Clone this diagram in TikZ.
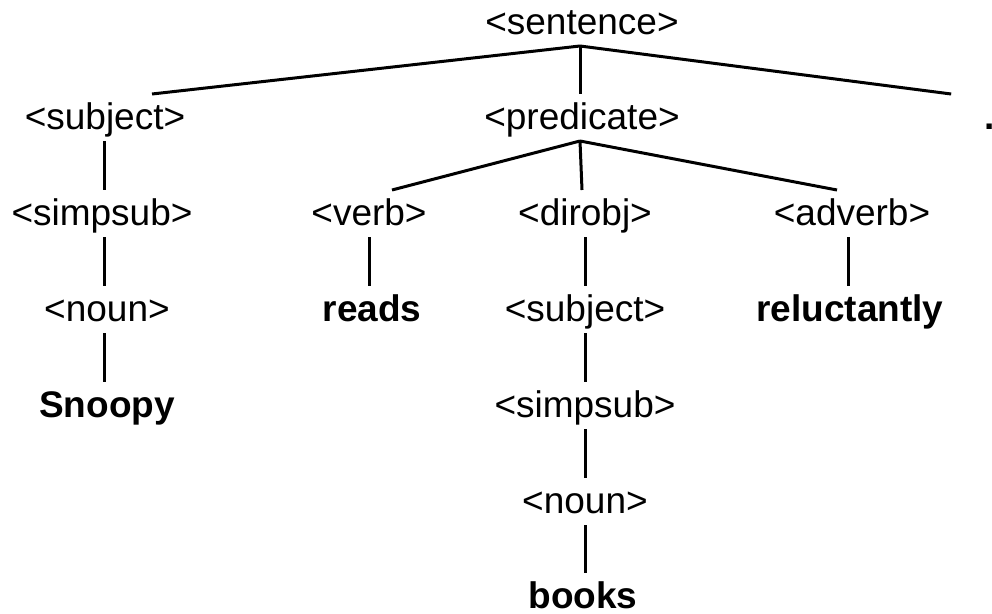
\documentclass[tikz,border=0pt]{standalone}
\usepackage{fontspec}
\setmainfont{Liberation Sans}
\begin{document}
\begin{tikzpicture}[x=1pt,y=-1pt,
  word/.style={anchor=base,inner sep=0pt,outer sep=0pt,text height=35pt,text depth=12pt,
    font=\fontsize{37}{44}\selectfont},
  leaf/.style={word,font=\fontsize{37}{44}\selectfont\bfseries},
  edge/.style={line width=3pt}]
\clip (0,0) rectangle (992,613);
\fill[white] (0,0) rectangle (992,613);
% row 0
\node[word] (sent) at (582,34) {<sentence>};
% row 1
\node[word] (subj) at (105,129) {<subject>};
\node[word] (pred) at (582,129) {<predicate>};
\node[leaf,anchor=base west] (stop) at (984,129) {.};
% row 2
\node[word] (simp) at (102,225) {<simpsub>};
\node[word] (verb) at (369,225) {<verb>};
\node[word] (dobj) at (585,225) {<dirobj>};
\node[word] (advb) at (852,225) {<adverb>};
% row 3
\node[word] (noun) at (107,321) {<noun>};
\node[leaf] (reads) at (372,321) {reads};
\node[word] (subjb) at (585,321) {<subject>};
\node[leaf] (reluc) at (850,321) {reluctantly};
% row 4
\node[leaf] (snoopy) at (107,417) {Snoopy};
\node[word] (simpb) at (585,417) {<simpsub>};
% row 5
\node[word] (nounb) at (585,513) {<noun>};
% row 6
\node[leaf] (books) at (583,608) {books};

% branches
\draw[edge] ([xshift=-2pt]sent.south) -- ([xshift=47pt]subj.north);
\draw[edge] ([xshift=-2pt]sent.south) -- ([xshift=-2pt]pred.north);
\draw[edge] ([xshift=-2pt]sent.south) -- ([xshift=-38pt]stop.north);
\draw[edge] ([xshift=-1pt]subj.south) -- ([xshift=2pt]simp.north);
\draw[edge] ([xshift=2pt]simp.south) -- ([xshift=-3pt]noun.north);
\draw[edge] ([xshift=-3pt]noun.south) -- ([xshift=-3pt]snoopy.north);
\draw[edge] ([xshift=-2pt]pred.south) -- ([xshift=23pt]verb.north);
\draw[edge] ([xshift=-2pt]pred.south) -- ([xshift=-3pt]dobj.north);
\draw[edge] ([xshift=-2pt]pred.south) -- ([xshift=-15pt]advb.north);
\draw[edge] (verb.south) -- ([xshift=-3pt]reads.north);
\draw[edge] ([xshift=-4pt]advb.south) -- ([xshift=-2pt]reluc.north);
\draw[edge] (dobj.south) -- (subjb.north);
\draw[edge] (subjb.south) -- (simpb.north);
\draw[edge] (simpb.south) -- (nounb.north);
\draw[edge] (nounb.south) -- ([xshift=2pt]books.north);
\end{tikzpicture}
\end{document}
